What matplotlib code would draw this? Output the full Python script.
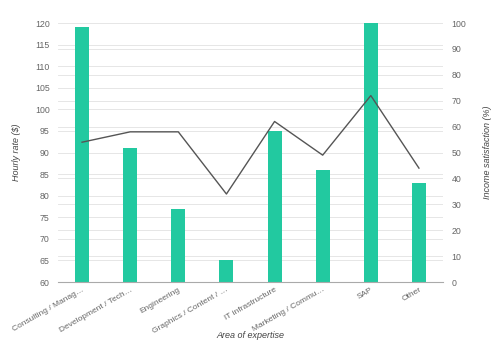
import matplotlib
matplotlib.use("Agg")
import matplotlib.pyplot as plt
import numpy as np

categories = ["Consulting / Manag…", "Development / Tech…", "Engineering",
              "Graphics / Content / …", "IT infrastructure", "Marketing / Commu…",
              "SAP", "Other"]
hourly_rate = [119, 91, 77, 65, 95, 86, 120, 83]
satisfaction = [54, 58, 58, 34, 62, 49, 72, 44]

bar_colour = "#22c9a0"
line_colour = "#555555"
text_colour = "#666666"
grid_colour = "#e6e6e6"

plt.rcParams["font.family"] = ["Liberation Sans", "DejaVu Sans"]

fig = plt.figure(figsize=(5, 3.44), dpi=100)
ax = fig.add_axes([0.116, 0.180, 0.770, 0.753])
ax2 = ax.twinx()

x = np.arange(len(categories))
ax.bar(x, hourly_rate, width=0.29, color=bar_colour, zorder=2)
ax.set_ylim(60, 120)
ax.set_yticks(np.arange(60, 121, 5))
ax.set_xlim(-0.5, len(categories) - 0.5)
ax.set_xticks(x)
ax.set_xticklabels(categories, rotation=30, ha="right", rotation_mode="anchor")

ax2.plot(x, satisfaction, color=line_colour, lw=1, zorder=3)
ax2.set_ylim(0, 100)
ax2.set_yticks(np.arange(0, 101, 10))

# right-axis gridlines drawn on the bar axes so they stay behind the bars
right_ticks = ax2.get_yticks()
ax.set_yticks(60 + right_ticks * 0.6, minor=True)
ax.grid(axis="y", which="both", color=grid_colour, lw=0.7)
ax.set_axisbelow(True)

for a in (ax, ax2):
    for s in a.spines.values():
        s.set_visible(False)
    a.tick_params(which="both", length=0, labelsize=6.3, labelcolor=text_colour, pad=6)
ax.spines["bottom"].set_visible(True)
ax.spines["bottom"].set_color("#aaaaaa")
ax.spines["bottom"].set_linewidth(0.8)
ax.set_zorder(1)
ax2.set_zorder(2)
ax2.patch.set_visible(False)
ax.tick_params(axis="x", labelsize=6, pad=3)

lab = dict(fontsize=6.5, style="italic", color="#444444")
ax.set_ylabel("Hourly rate ($)", labelpad=10, **lab)
ax2.set_ylabel("Income satisfaction (%)", rotation=90, labelpad=12, **lab)
ax.set_xlabel("Area of expertise", **lab)
ax.xaxis.set_label_coords(0.5, -0.19)

fig.savefig("out.png", dpi=100)
